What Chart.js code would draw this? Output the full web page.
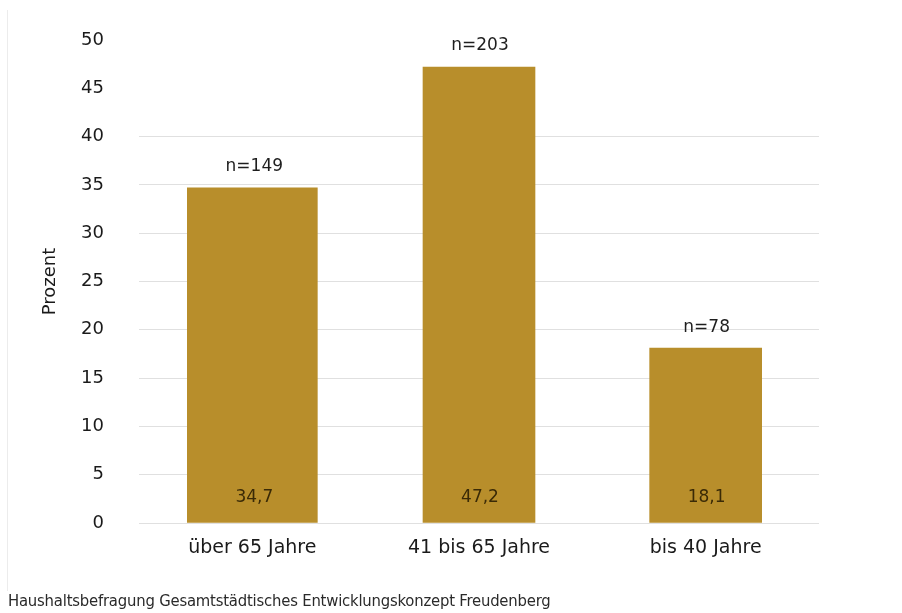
<!DOCTYPE html>
<html lang="de">
<head>
<meta charset="utf-8">
<script src="https://cdn.jsdelivr.net/npm/chart.js@4.4.1/dist/chart.umd.min.js"></script>
<style>
    html, body { margin: 0; padding: 0; background: #ffffff; }
    #wrap {
        position: relative;
        width: 902px;
        height: 613px;
        overflow: hidden;
    }
    #wrap:before {
        content: '';
        position: absolute;
        left: 7px; top: 10px; bottom: 22px;
        border-left: 1px solid #ececec;
    }
    #quelle {
        position: absolute;
        left: 8px;
        top: 591px;
        font-family: 'DejaVu Sans Condensed', 'DejaVu Sans', sans-serif;
        font-size: 16.5px;
        color: #2a2a2a;
        letter-spacing: -0.2px;
    }
</style>
</head>
<body>
<div id="wrap">
    <canvas id="chart" width="902" height="613"></canvas>
    <div id="quelle">Haushaltsbefragung Gesamtstädtisches Entwicklungskonzept Freudenberg</div>
</div>
<script>
// Altersgruppen der befragten Haushalte
const altersgruppen = ['über 65 Jahre', '41 bis 65 Jahre', 'bis 40 Jahre'];
const prozent = [34.7, 47.2, 18.1];
const anzahl = [149, 203, 78];
const yTicks = [0, 5, 10, 15, 20, 25, 30, 35, 40, 45, 50];

const balkenFarbe = '#b88e2b';
const schrift = "'DejaVu Sans', Verdana, sans-serif";

function dezimal(v) {
    return v.toFixed(1).replace('.', ',');
}

// erster Balken ist etwas breiter als die anderen beiden
const breiterBalken = prozent.map((v, i) => i === 0 ? v : null);
const schmaleBalken = prozent.map((v, i) => i === 0 ? null : v);

// n-Werte ueber den Balken, Prozentwerte unten im Balken
const balkenBeschriftung = {
    id: 'balkenBeschriftung',
    afterDatasetsDraw(chart) {
        const ctx = chart.ctx;
        const yScale = chart.scales.y;
        const xScale = chart.scales.x;
        ctx.save();
        ctx.textAlign = 'center';
        ctx.textBaseline = 'middle';
        prozent.forEach((wert, i) => {
            const x = xScale.getPixelForValue(i) + (i === 0 ? 2 : 1);
            const oben = yScale.getPixelForValue(wert);
            ctx.font = '17px ' + schrift;
            ctx.fillStyle = '#1e1e1e';
            ctx.fillText('n=' + anzahl[i], x, oben - 21);

            ctx.fillStyle = '#3a2a06';
            ctx.fillText(dezimal(wert), x, yScale.getPixelForValue(0) - 25);
        });
        ctx.restore();
    }
};

new Chart(document.getElementById('chart'), {
    type: 'bar',
    data: {
        labels: altersgruppen,
        datasets: [{
            data: breiterBalken,
            backgroundColor: balkenFarbe,
            borderWidth: 0,
            barThickness: 130
        }, {
            data: schmaleBalken,
            backgroundColor: balkenFarbe,
            borderWidth: 0,
            barThickness: 112
        }]
    },
    options: {
        responsive: false,
        animation: false,
        datasets: { bar: { grouped: false } },
        layout: {
            padding: { top: 40, right: 83, left: 40, bottom: 0 }
        },
        plugins: {
            legend: { display: false },
            tooltip: { enabled: false }
        },
        scales: {
            x: {
                grid: { display: false, drawTicks: false },
                border: { display: false },
                ticks: {
                    padding: 14,
                    color: '#1a1a1a',
                    font: { family: schrift, size: 19 }
                },
                afterFit(scale) { scale.height = 90; }
            },
            y: {
                min: 0,
                max: 50,
                afterBuildTicks(scale) {
                    scale.ticks = yTicks.map(v => ({ value: v }));
                },
                grid: {
                    // unsichtbare Tickstriche schaffen Abstand zu den Beschriftungen
                    drawTicks: true,
                    tickLength: 33,
                    tickColor: 'rgba(0,0,0,0)',
                    lineWidth: 1,
                    color: ctx => (ctx.tick && ctx.tick.value > 40) ? 'rgba(0,0,0,0)' : '#e0e0e0'
                },
                border: { display: false },
                ticks: {
                    padding: 2,
                    color: '#1a1a1a',
                    font: { family: schrift, size: 18 }
                },
                title: {
                    display: true,
                    text: 'Prozent',
                    color: '#1a1a1a',
                    padding: { top: 0, bottom: 0 },
                    font: { family: schrift, size: 18 }
                },
                afterFit(scale) { scale.width = 99; }
            }
        }
    },
    plugins: [balkenBeschriftung]
});
</script>
</body>
</html>
